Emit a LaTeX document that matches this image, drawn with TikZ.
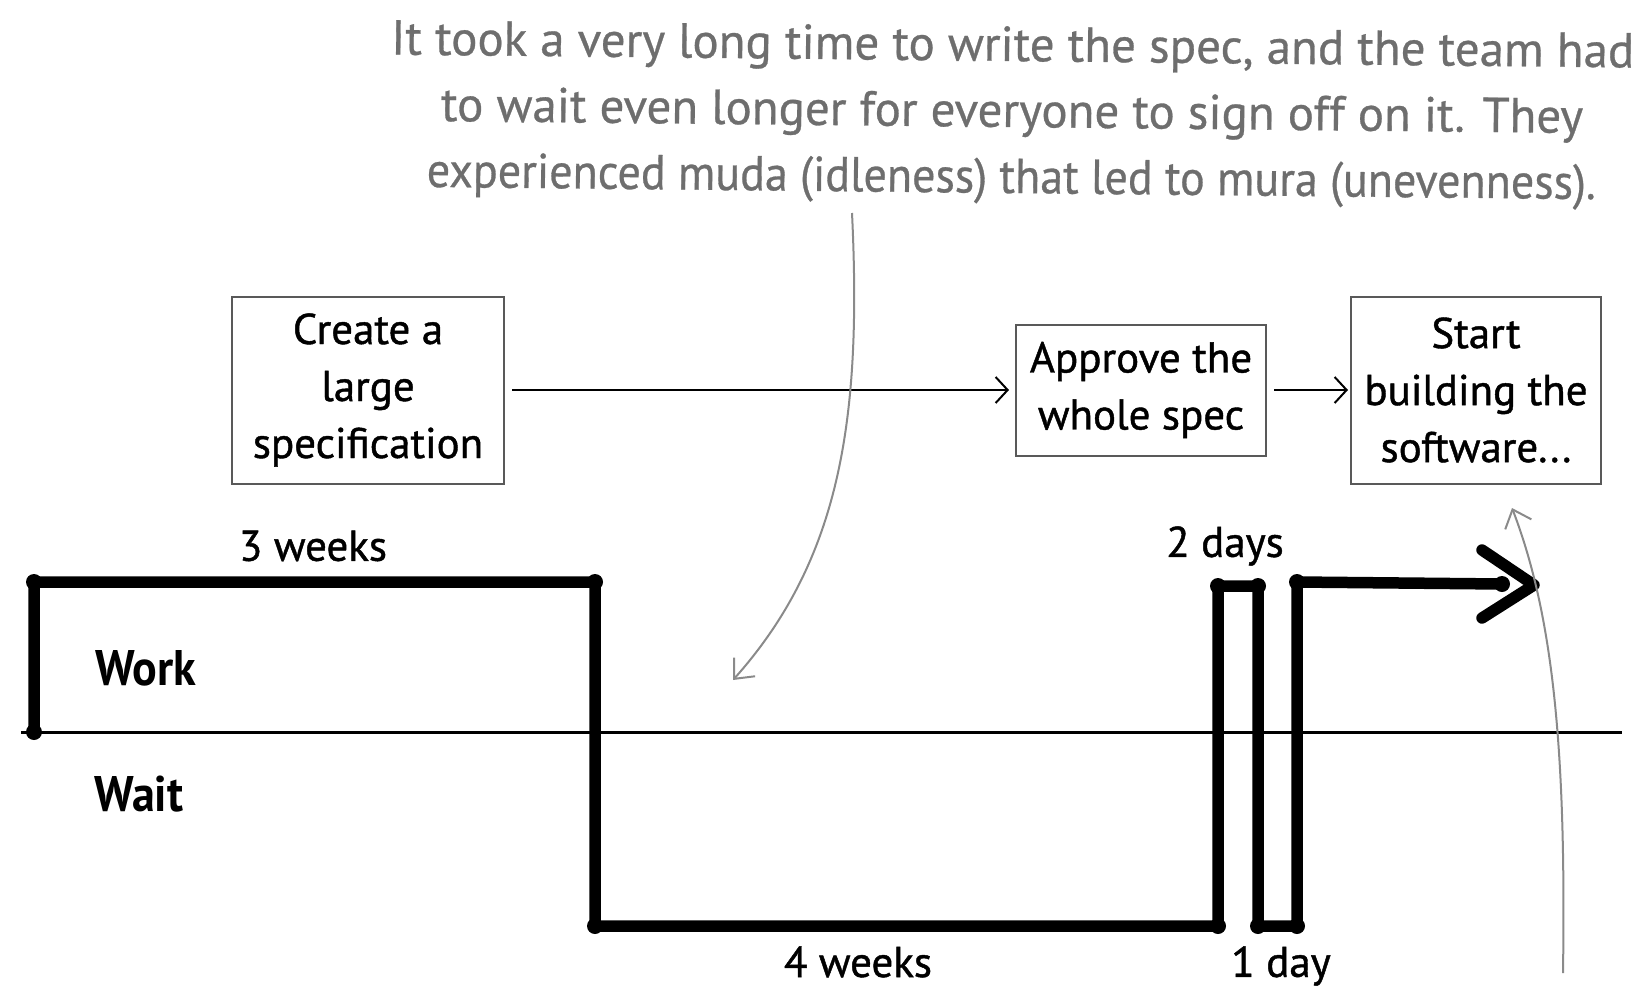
\documentclass[tikz,border=0pt]{standalone}
\usepackage{fontspec}
\setmainfont{PT Sans}
\newfontfamily\hand[FakeBold=1]{PT Sans}
\newfontfamily\handnote[FakeBold=0.6]{PT Sans}
\newfontfamily\handnarrow[FakeBold=0.6,FakeStretch=0.94]{PT Sans}
\newfontfamily\handbold[FakeStretch=0.92]{PT Sans}
\usetikzlibrary{arrows.meta}
\definecolor{notegray}{HTML}{6E6E6E}
\definecolor{arcgray}{HTML}{8A8A8A}
\begin{document}
\begin{tikzpicture}[x=1pt,y=-1pt,
  stepbox/.style={draw=black!65, line width=2pt, fill=white, align=center,
    inner sep=0pt, font=\hand\fontsize{43}{57}\selectfont},
  flow/.style={line width=2.5pt, -{Straight Barb[length=12pt,width=26pt,line width=2pt]}},
  note/.style={draw=arcgray, line width=2pt, -{Straight Barb[length=16pt,width=28pt,line width=2pt]}},
  signal/.style={line width=11.5pt, line join=round, line cap=round},
  corner/.style={fill=black},
  lbl/.style={font=\hand\fontsize{43}{50}\selectfont, inner sep=0pt},
  zone/.style={font=\handbold\bfseries\fontsize{50}{50}\selectfont, inner sep=0pt},
  remark/.style={align=center, text=notegray, inner sep=0pt,
    font=\handnote\fontsize{49}{66}\selectfont}]
\useasboundingbox (0,0) rectangle (1646,996);

% process steps
\node[stepbox, minimum width=272pt, minimum height=187pt] (create) at (368,390)
  {Create a\\large\\specification};
\node[stepbox, minimum width=250pt, minimum height=131pt] (approve) at (1141,390)
  {Approve the\\whole spec};
\node[stepbox, minimum width=250pt, minimum height=187pt] (start) at (1476,390)
  {Start\\building the\\software...};

\draw[flow] ([xshift=7pt]create.east) -- ([xshift=-6pt]approve.west);
\draw[flow] ([xshift=7pt]approve.east) -- ([xshift=-2pt]start.west);

% work / wait axis
\coordinate (axisL) at (21,732);
\coordinate (axisR) at (1622,732);
\draw[line width=3pt] (axisL) -- (axisR);

% activity signal
\coordinate (s0) at (34,732);
\coordinate (s1) at (34,582);
\coordinate (s2) at (595,582);
\coordinate (s3) at (595,926);
\coordinate (s4) at (1218,926);
\coordinate (s5) at (1218,586);
\coordinate (s6) at (1258,586);
\coordinate (s7) at (1258,926);
\coordinate (s8) at (1297,926);
\coordinate (s9) at (1297,582);
\coordinate (s10) at (1502,584);
\coordinate (tipU) at (1482,550);
\coordinate (tip) at (1534,585);
\coordinate (tipD) at (1482,618);
\draw[signal] (s0) -- (s1) -- (s2) -- (s3) -- (s4) -- (s5) -- (s6) -- (s7)
  -- (s8) -- (s9) -- (s10);
\draw[signal] (tipU) -- (tip) -- (tipD);
\foreach \c in {s0,s1,s2,s3,s4,s5,s6,s7,s8,s9,s10}
  \fill[corner] (\c) circle (8pt);

% labels
\node[lbl] (l3w) at (313,546) {3 weeks};
\node[lbl] (l2d) at (1225,546) {2 days};
\node[lbl] (l4w) at (858,962) {4 weeks};
\node[lbl] (l1d) at (1281,966) {1 day};
\node[zone] (work) at (146,668) {Work};
\node[zone] (wait) at (139,794) {Wait};

% comment
\node[remark, rotate=-0.6] (remark) at (1012,115)
  {It took a very long time to write the spec, and the team had\\
   to wait even longer for everyone to sign off on it. They\\
   {\handnarrow experienced muda (idleness) that led to mura (unevenness).}};

\coordinate (m1) at (852,213);
\coordinate (m1e) at (733,680);
\draw[note] (m1) .. controls (862,420) and (840,560) .. (m1e);
\coordinate (m2) at (1563,973);
\coordinate (m2e) at (1512,508);
\draw[note] (m2) .. controls (1566,760) and (1555,620) .. (m2e);
\end{tikzpicture}
\end{document}
